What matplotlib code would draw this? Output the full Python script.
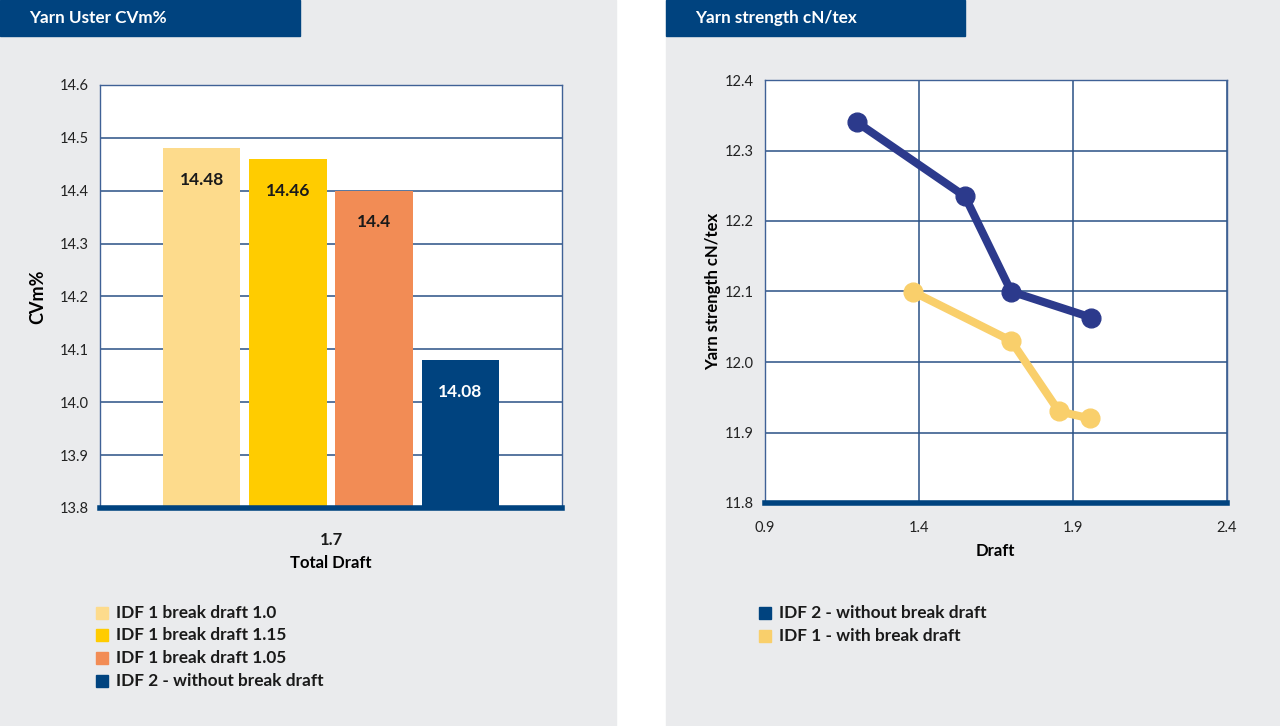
import matplotlib
matplotlib.use('Agg')
import matplotlib.pyplot as plt
from matplotlib.patches import Rectangle

plt.rcParams['font.family'] = ['Lato', 'DejaVu Sans']

# --- data ---------------------------------------------------------------
bar_labels = ['IDF 1 break draft 1.0', 'IDF 1 break draft 1.15',
              'IDF 1 break draft 1.05', 'IDF 2 - without break draft']
bar_values = [14.48, 14.46, 14.40, 14.08]
bar_colors = ['#FDDB8C', '#FFCC00', '#F28C55', '#00437F']
bar_group = '1.7'

idf2_draft = [1.20, 1.55, 1.70, 1.96]
idf2_strength = [12.34, 12.235, 12.10, 12.063]
idf1_draft = [1.38, 1.70, 1.855, 1.955]
idf1_strength = [12.10, 12.03, 11.93, 11.92]
line_labels = ['IDF 2 - without break draft', 'IDF 1 - with break draft']
line_colors = ['#2C3A8C', '#F9CF6B']

W, H = 1280, 726
NAVY = '#00437F'
GRID = '#2A5185'
PANEL = '#EAEBED'


def fx(px):
    return px / W


def fy(py):
    # pixel from top -> figure fraction from bottom
    return 1 - py / H


fig = plt.figure(figsize=(W / 100, H / 100), dpi=100, facecolor='white')

# grey panels and title bars
for x0, x1 in [(0, 616), (666, W)]:
    fig.patches.append(Rectangle((fx(x0), 0), fx(x1 - x0), 1,
                                 transform=fig.transFigure, color=PANEL, zorder=-10))
for x0, x1, title in [(0, 300, 'Yarn Uster CVm%'), (666, 965, 'Yarn strength cN/tex')]:
    fig.patches.append(Rectangle((fx(x0), fy(36)), fx(x1 - x0), 36 / H,
                                 transform=fig.transFigure, color=NAVY, zorder=-5))
    fig.text(fx(x0 + 29), fy(18), title, color='white', fontsize=12.3,
             fontweight='bold', va='center', ha='left')

# --- left: bar chart ----------------------------------------------------
ax1 = fig.add_axes([fx(100), fy(508), fx(462), 423 / H])
ax1.set_facecolor('white')
pos = [i - (len(bar_values) - 1) / 2 for i in range(len(bar_values))]
bars = ax1.bar(pos, [v - 13.8 for v in bar_values], bottom=13.8, width=0.9,
               color=bar_colors, zorder=2)
for p, v, c in zip(pos, bar_values, bar_colors):
    ax1.text(p, v - 0.06, f'{v:g}', ha='center', va='center', fontsize=12.5,
             fontweight='bold', color='white' if c == NAVY else '#1a1a1a', zorder=3)
ax1.set_xlim(-2.68, 2.68)
ax1.set_ylim(13.8, 14.6)
ax1.set_yticks([13.8 + 0.1 * i for i in range(9)])
ax1.set_yticklabels([f'{13.8 + 0.1 * i:.1f}' for i in range(9)])
ax1.set_xticks([0])
ax1.set_xticklabels([bar_group])
ax1.set_xlabel('Total Draft', fontweight='bold', fontsize=12, labelpad=5)
ax1.set_ylabel('CVm%', fontweight='bold', fontsize=13, labelpad=10)
ax1.grid(axis='y', color=GRID, lw=1.1, zorder=1)
ax1.set_axisbelow(True)
ax1.tick_params(length=0, labelsize=10.5, colors='#222222', pad=8)
ax1.tick_params(axis='x', pad=17, labelsize=12, colors='#1a1a1a')
for t in ax1.get_xticklabels():
    t.set_fontweight('bold')
for s in ['left', 'right', 'top']:
    ax1.spines[s].set_color('#3F6196')
    ax1.spines[s].set_linewidth(1)
ax1.spines['bottom'].set_color(NAVY)
ax1.spines['bottom'].set_linewidth(4)
ax1.spines['bottom'].set_zorder(4)

# left legend
for i, (lab, col) in enumerate(zip(bar_labels, bar_colors)):
    yc = 612.5 + i * 22.8
    fig.patches.append(Rectangle((fx(95.5), fy(yc + 6)), fx(12), 12 / H,
                                 transform=fig.transFigure, color=col))
    fig.text(fx(115.5), fy(yc), lab, fontsize=12.4, fontweight='bold',
             va='center', ha='left', color='#1a1a1a')

# --- right: line chart --------------------------------------------------
ax2 = fig.add_axes([fx(764.5), fy(503), fx(462.5), 423 / H])
ax2.set_facecolor('white')
for xs, ys, col in [(idf2_draft, idf2_strength, line_colors[0]),
                    (idf1_draft, idf1_strength, line_colors[1])]:
    ax2.plot(xs, ys, color=col, lw=5.8, marker='o', ms=13.5,
             solid_capstyle='round', zorder=3)
ax2.set_xlim(0.9, 2.4)
ax2.set_ylim(11.8, 12.4)
ax2.set_xticks([0.9, 1.4, 1.9, 2.4])
ax2.set_xticklabels(['0.9', '1.4', '1.9', '2.4'])
ax2.set_yticks([11.8 + 0.1 * i for i in range(7)])
ax2.set_yticklabels([f'{11.8 + 0.1 * i:.1f}' for i in range(7)])
ax2.grid(True, color=GRID, lw=1.1, zorder=1)
ax2.set_axisbelow(True)
ax2.tick_params(length=0, labelsize=10.5, colors='#222222', pad=8)
ax2.tick_params(axis='x', pad=13)
ax2.set_xlabel('Draft', fontweight='bold', fontsize=12, labelpad=6)
ax2.set_ylabel('Yarn strength cN/tex', fontweight='bold', fontsize=12, labelpad=2)
for s in ['left', 'right', 'top']:
    ax2.spines[s].set_color('#3F6196')
    ax2.spines[s].set_linewidth(1)
ax2.spines['bottom'].set_color(NAVY)
ax2.spines['bottom'].set_linewidth(4)
ax2.spines['bottom'].set_zorder(4)

# right legend
for i, (lab, col) in enumerate(zip(line_labels, line_colors)):
    yc = 613 + i * 23
    sq = NAVY if i == 0 else col
    fig.patches.append(Rectangle((fx(759), fy(yc + 6)), fx(12), 12 / H,
                                 transform=fig.transFigure, color=sq))
    fig.text(fx(779), fy(yc), lab, fontsize=12.4, fontweight='bold',
             va='center', ha='left', color='#1a1a1a')

fig.savefig('out.png', dpi=100, facecolor=fig.get_facecolor())
